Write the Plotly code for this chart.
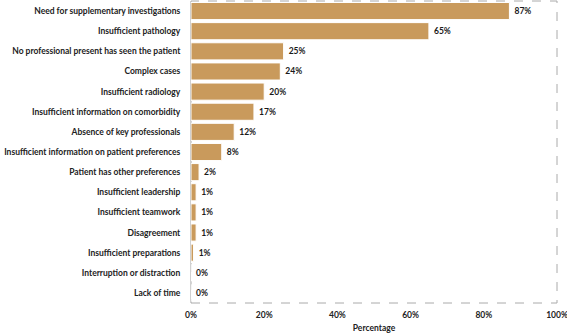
import plotly.graph_objects as go

categories = [
    "Need for supplementary investigations",
    "Insufficient pathology",
    "No professional present has seen the patient",
    "Complex cases",
    "Insufficient radiology",
    "Insufficient information on comorbidity",
    "Absence of key professionals",
    "Insufficient information on patient preferences",
    "Patient has other preferences",
    "Insufficient leadership",
    "Insufficient teamwork",
    "Disagreement",
    "Insufficient preparations",
    "Interruption or distraction",
    "Lack of time",
]
values = [87, 65, 25.3, 24.4, 20, 17.2, 11.8, 8.4, 2.2, 1.4, 1.4, 1.4, 0.7, 0, 0]
x_ticks = [0, 20, 40, 60, 80, 100]
x_ticklabels = ["0%", "20%", "40%", "60%", "80%", "100%"]

font_family = "Lato"
fs = 8.5

fig = go.Figure(go.Bar(
    x=values,
    y=categories,
    orientation="h",
    marker=dict(color="#C99A5C", line=dict(color="white", width=1)),
    texttemplate=" %{x:.0f}%",
    textposition="outside",
    cliponaxis=False,
    textfont=dict(family=font_family, size=fs, color="#1a1a1a", weight="bold"),
))

fig.update_layout(
    width=567,
    height=334,
    margin=dict(l=191, r=10, t=1, b=31),
    plot_bgcolor="white",
    paper_bgcolor="white",
    bargap=0.15,
    showlegend=False,
    font=dict(family=font_family, size=fs, color="#222222"),
    shapes=[dict(
        type="rect", xref="paper", yref="paper", x0=0, x1=1, y0=0, y1=1,
        line=dict(color="#aaaaaa", width=1, dash="dash"), layer="below",
    )],
)
fig.update_yaxes(
    autorange="reversed",
    automargin=False,
    showgrid=False,
    showline=True,
    linecolor="#d0d0d0",
    linewidth=1,
    ticks="",
    ticklabelstandoff=8,
    tickfont=dict(family=font_family, size=fs, color="#222222", weight="bold"),
)
fig.update_xaxes(
    range=[0, 100],
    automargin=False,
    tickvals=x_ticks,
    ticktext=x_ticklabels,
    ticklabeloverflow="allow",
    ticklabelstandoff=5,
    showgrid=False,
    zeroline=False,
    showline=False,
    ticks="",
    tickfont=dict(family=font_family, size=fs, color="#222222", weight="bold"),
    title=dict(text="Percentage", font=dict(family=font_family, size=fs, color="#222222", weight="bold"), standoff=6),
)

fig.write_html(
    "out.html",
    config={"displayModeBar": False},
    post_script="document.body.style.margin='0';document.body.style.padding='0';",
)
